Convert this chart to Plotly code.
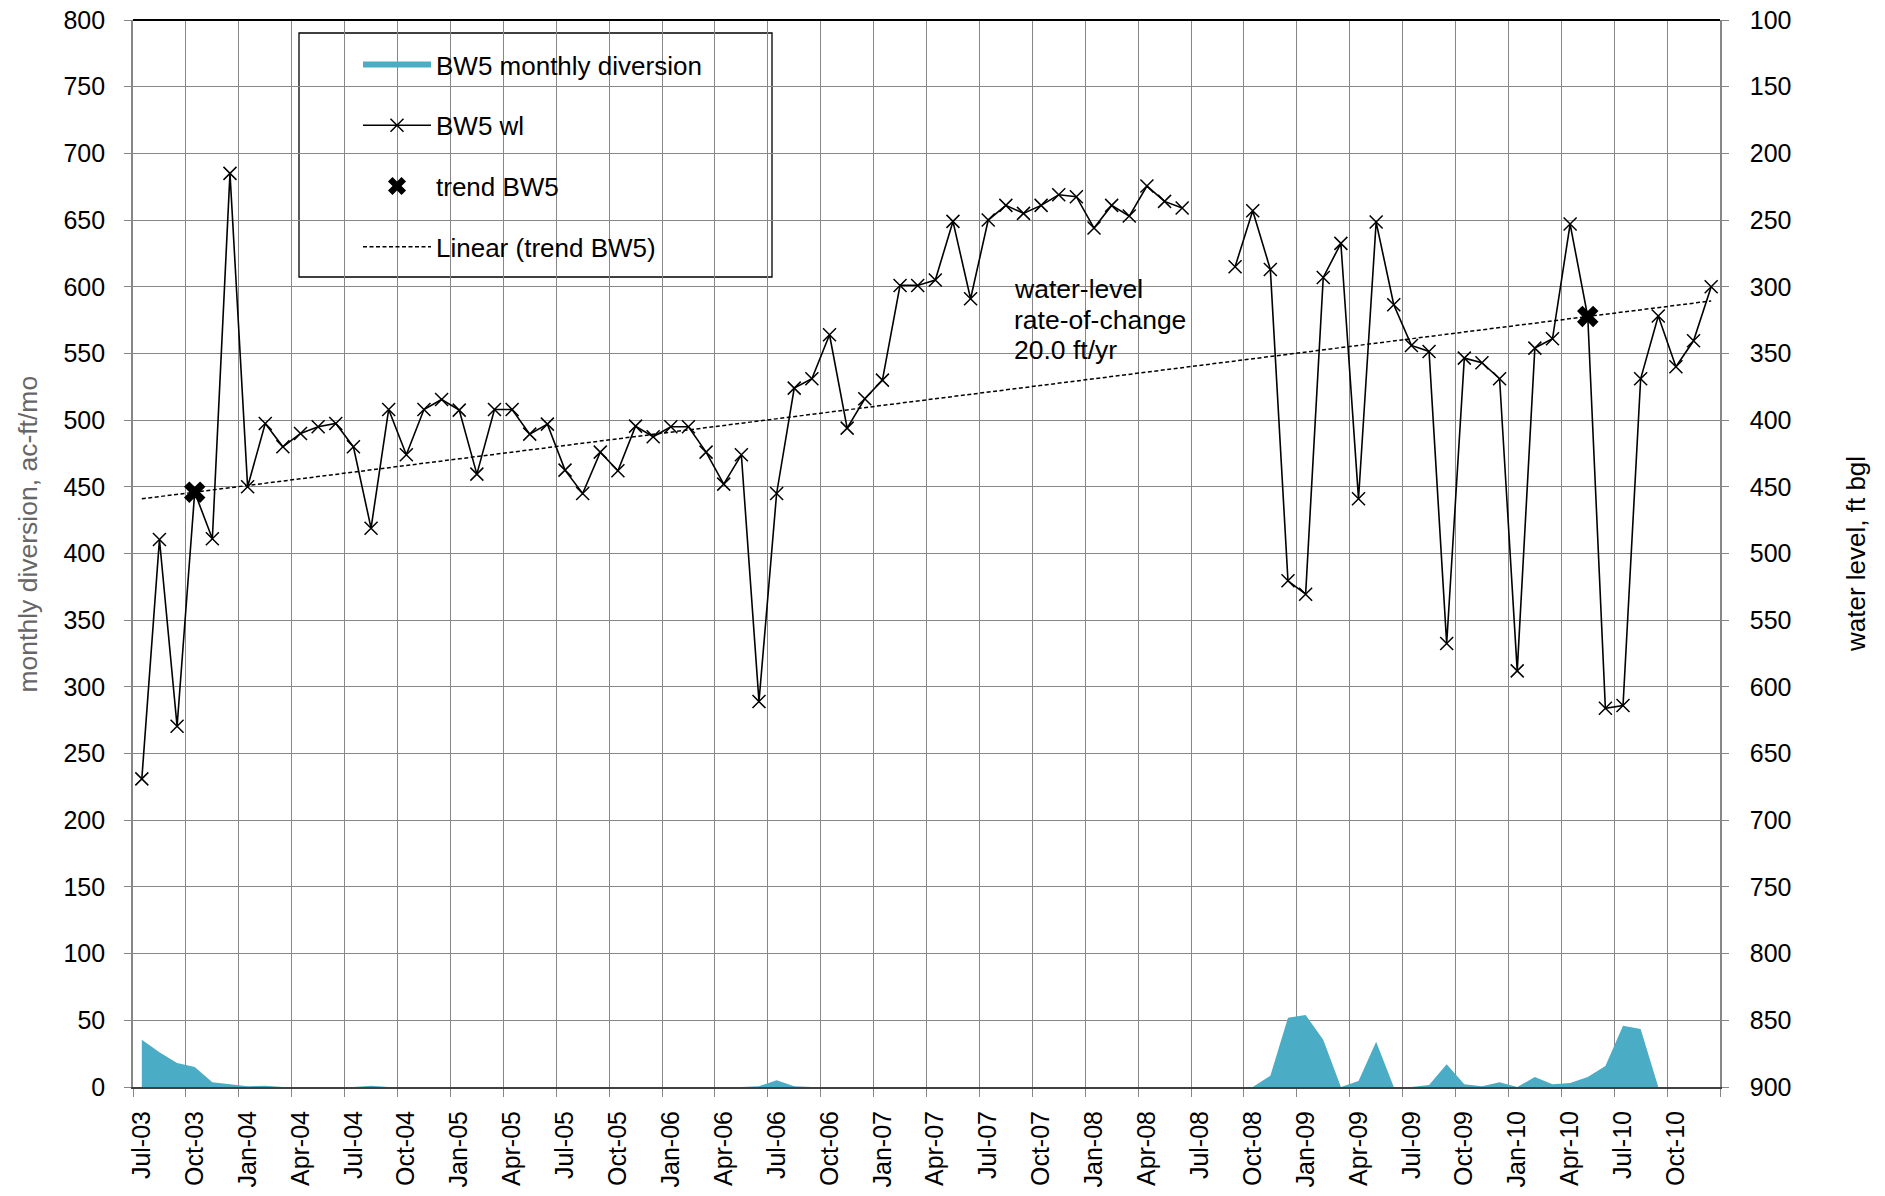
import numpy as np
import plotly.graph_objects as go

# ---------------- data ----------------
month_names = ["Jan", "Feb", "Mar", "Apr", "May", "Jun", "Jul", "Aug", "Sep", "Oct", "Nov", "Dec"]
months = [f"{month_names[(6 + k) % 12]}-{(3 + (6 + k) // 12):02d}" for k in range(90)]  # Jul-03 .. Dec-10

# BW5 monthly diversion, ac-ft/mo (left axis)
diversion = [35.5, 26, 18, 15, 3.5, 2, 0.5, 1, 0, 0, 0, 0,
             0, 1, 0, 0, 0, 0, 0, 0, 0, 0, 0, 0,
             0, 0, 0, 0, 0, 0, 0, 0, 0, 0, 0, 0.5,
             5, 0.5, 0, 0, 0, 0, 0, 0, 0, 0, 0, 0,
             0, 0, 0, 0, 0, 0, 0, 0, 0, 0, 0, 0,
             0, 0, 0, 0, 8.5, 52, 54, 35.5, 0, 4.5, 34, 0,
             0, 1.5, 17, 2, 0.5, 3.5, 0, 7.5, 2, 3, 7.5, 15.75,
             46, 43.5, 0, 0, 0, 0]

# BW5 water level, ft bgl (right axis, reversed)
water_level = [669, 489.5, 629.5, 454, 489, 215, 450, 402.5, 420, 410, 405, 402.5,
               420, 481, 392, 426, 392, 384.5, 392.5, 440.5, 392, 392, 410.5, 403,
               437.5, 455, 424, 438, 404.5, 412.5, 405, 405, 424, 448, 426, 611,
               455, 376, 369, 336, 406, 384, 370, 299, 299, 295, 251, 309,
               250, 239, 245, 239, 231, 232.5, 256, 239, 247, 224.5, 236, 241,
               None, None, 285, 243, 287, 520.5, 530.5, 293, 267.5, 459, 251.5, 313.5,
               344, 348.5, 567.5, 353.5, 357, 369, 588, 346, 339, 253, 322.3, 616,
               614, 369, 322, 360, 340.5, 300]

# trend points
trend_months = ["Oct-03", "May-10"]
trend_wl = [454, 322.3]

# linear trendline fitted through the trend points (as Excel does)
trend_idx = [months.index(m) for m in trend_months]
slope, intercept = np.polyfit(trend_idx, trend_wl, 1)
lin_months = [months[0], months[-1]]
lin_wl = [intercept + slope * 0, intercept + slope * (len(months) - 1)]
rate_lines = ["water-level", "rate-of-change", f"{abs(slope) * 12:.1f} ft/yr"]

left_ticks = list(range(0, 801, 50))
right_ticks = list(range(100, 901, 50))

# ---------------- layout geometry (pixels) ----------------
W, H = 1885, 1196
PL, PR, PT, PB = 133, 1720, 20, 1087
pw, ph = PR - PL, PB - PT


def px(x):
    return (x - PL) / pw


def py(y):
    return (PB - y) / ph


FONT = "Liberation Sans, Arial, sans-serif"
GRID = "#878787"

fig = go.Figure()

fig.add_trace(go.Scatter(
    x=months, y=diversion, name="BW5 monthly diversion", mode="none",
    fill="tozeroy", fillcolor="#4BACC6", yaxis="y", legendgroup="a",
    hoverinfo="x+y"))

fig.add_trace(go.Scatter(
    x=months, y=water_level, name="BW5 wl", mode="lines+markers",
    line=dict(color="black", width=1.6),
    marker=dict(symbol="x-thin", size=13, line=dict(color="black", width=1.5)),
    connectgaps=False, yaxis="y2", legendgroup="b"))

fig.add_trace(go.Scatter(
    x=trend_months, y=trend_wl, name="trend BW5", mode="markers",
    marker=dict(symbol="x", size=19, color="black", line=dict(width=0)),
    yaxis="y2", legendgroup="c"))

fig.add_trace(go.Scatter(
    x=lin_months, y=lin_wl, name="Linear (trend BW5)", mode="lines",
    line=dict(color="black", width=1.5, dash="4px,2.5px"),
    yaxis="y2", legendgroup="d"))

annotations = [
    dict(text=t, xref="paper", yref="paper", x=px(1012), y=py(yc),
         xanchor="left", yanchor="middle", align="left", showarrow=False,
         font=dict(size=26.5, color="black"))
    for t, yc in zip(rate_lines, [289, 319.5, 350])
]
annotations += [
    dict(text="monthly diversion, ac-ft/mo", xref="paper", yref="paper",
         x=px(27), y=py(534.5), xanchor="center", yanchor="middle",
         textangle=-90, showarrow=False, font=dict(size=26.5, color="#666666")),
    dict(text="water level, ft bgl", xref="paper", yref="paper",
         x=px(1856), y=py(554), xanchor="center", yanchor="middle",
         textangle=-90, showarrow=False, font=dict(size=26, color="black")),
]

fig.update_layout(
    width=W, height=H, autosize=False,
    margin=dict(l=PL, r=W - PR, t=PT, b=H - PB, pad=0, autoexpand=False),
    paper_bgcolor="white", plot_bgcolor="white",
    font=dict(family=FONT, size=25, color="black"),
    showlegend=True,
    legend=dict(
        x=px(358), y=py(41), xanchor="left", yanchor="top",
        bgcolor="rgba(0,0,0,0)", borderwidth=0,
        traceorder="grouped", tracegroupgap=24, itemwidth=68,
        font=dict(family=FONT, size=26, color="black")),
    xaxis=dict(
        type="category", categoryorder="array", categoryarray=months,
        range=[-0.5, len(months) - 0.5], automargin=False,
        tickmode="linear", tick0=0, dtick=3, tickson="boundaries",
        showgrid=True, gridcolor=GRID, gridwidth=1.4,
        ticks="outside", ticklen=8, tickcolor=GRID, tickwidth=1.4,
        tickangle=-90, tickfont=dict(size=25), ticklabelstandoff=12,
        showline=True, linecolor="#404040", linewidth=2, zeroline=False),
    yaxis=dict(
        range=[0, 800], tickmode="array", tickvals=left_ticks, automargin=False,
        showgrid=True, gridcolor=GRID, gridwidth=1.4,
        ticks="outside", ticklen=7, tickcolor=GRID, tickwidth=1.4,
        tickfont=dict(size=25), ticklabelstandoff=14,
        showline=True, linecolor=GRID, linewidth=1.6, zeroline=False),
    yaxis2=dict(
        overlaying="y", side="right", range=[900, 100], automargin=False,
        tickmode="array", tickvals=right_ticks, showgrid=False,
        ticks="outside", ticklen=7, tickcolor=GRID, tickwidth=1.4,
        tickfont=dict(size=25), ticklabelstandoff=16,
        showline=True, linecolor=GRID, linewidth=1.6, zeroline=False),
    shapes=[
        dict(type="rect", xref="paper", yref="paper",
             x0=px(299), x1=px(772), y0=py(277), y1=py(33),
             line=dict(color="black", width=1.3), fillcolor="white", layer="between"),
        dict(type="line", xref="paper", yref="paper", x0=0, x1=1, y0=1, y1=1,
             line=dict(color="black", width=2.2)),
    ],
    annotations=annotations,
)

fig.write_html("out.html", config={"displayModeBar": False},
               post_script="document.body.style.margin='0';document.body.style.overflow='hidden';")
